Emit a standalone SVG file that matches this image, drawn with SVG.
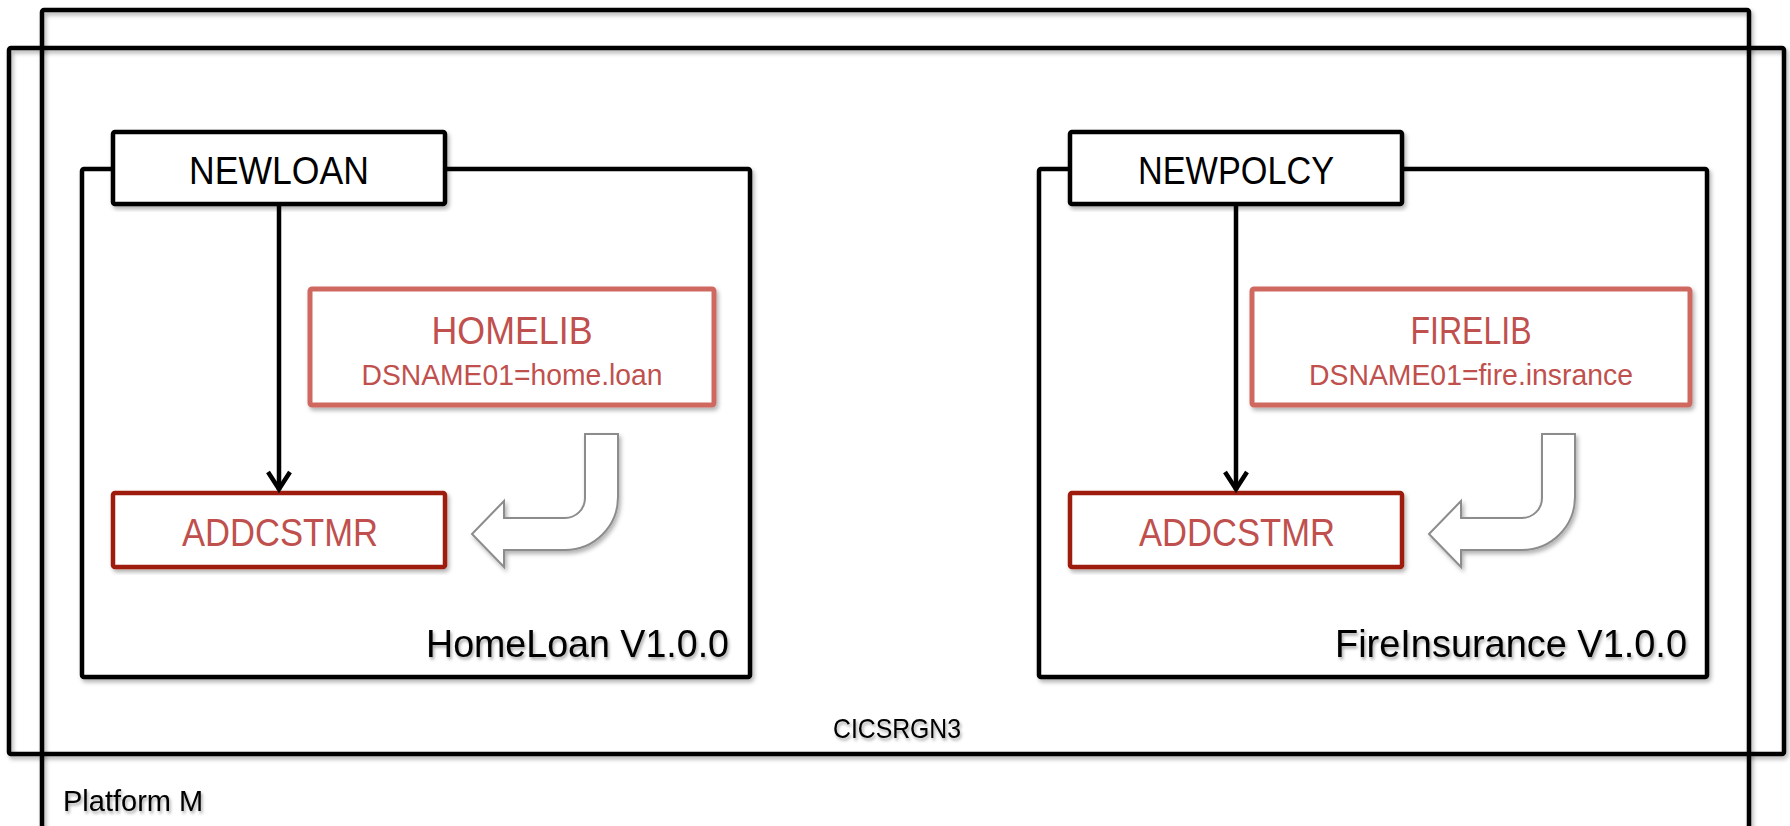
<svg xmlns="http://www.w3.org/2000/svg" width="1790" height="826" viewBox="0 0 1790 826">
  <defs>
    <filter id="sh" x="-5%" y="-5%" width="110%" height="115%">
      <feDropShadow dx="2" dy="3" stdDeviation="2" flood-color="#000" flood-opacity="0.3"/>
    </filter>
    <filter id="tsh" x="-5%" y="-20%" width="110%" height="150%">
      <feDropShadow dx="1.5" dy="2.5" stdDeviation="1.5" flood-color="#000" flood-opacity="0.35"/>
    </filter>
    <marker id="chev" viewBox="-24 -15 28 30" markerWidth="28" markerHeight="30" refX="0" refY="0" markerUnits="userSpaceOnUse" orient="auto">
      <path d="M-18,-11 L-1,0 L-18,11" fill="none" stroke="#000" stroke-width="4.5" stroke-linejoin="miter"/>
    </marker>
    <path id="uarrow" d="M585,434 L618,434 L618,497 A53,53 0 0 1 565,550 L504,550 L504,567 L472,534 L504,501 L504,518 L565,518 A20,20 0 0 0 585,498 Z"/>
  </defs>
  <style>
    .frame { fill: none; stroke: #000; stroke-width: 4.5; }
    .bundle { fill: #fff; stroke: #000; stroke-width: 4.5; }
    .op { fill: #fff; stroke: #000; stroke-width: 4.5; }
    .lib { fill: #fff; stroke: #CF6961; stroke-width: 5; }
    .prog { fill: #fff; stroke: #9E1A10; stroke-width: 4.5; }
    .uarr { fill: #fff; stroke: #8C8C8C; stroke-width: 2; }
    text { font-family: "Liberation Sans", Arial, sans-serif; }
    .blk { fill: #000; }
    .red { fill: #C0504D; }
    .conn { stroke: #000; stroke-width: 4.5; fill: none; }
  </style>
  <rect width="1790" height="826" fill="#fff"/>

  <g id="platform-m">
    <rect class="frame" x="42" y="10" width="1707" height="830" rx="2" filter="url(#sh)"/>
    <text class="blk" x="63" y="811" font-size="29" filter="url(#tsh)">Platform M</text>
  </g>

  <g id="cicsrgn3">
    <rect class="frame" x="9" y="48" width="1775" height="706" rx="2" filter="url(#sh)"/>
    <text class="blk" x="897" y="738" font-size="28" text-anchor="middle" textLength="128" lengthAdjust="spacingAndGlyphs" filter="url(#tsh)">CICSRGN3</text>
  </g>

  <g id="homeloan-bundle">
    <rect class="bundle" x="82" y="169" width="668" height="508" rx="2" filter="url(#sh)"/>
    <text class="blk" x="729" y="657" font-size="39" text-anchor="end" textLength="303" lengthAdjust="spacingAndGlyphs" filter="url(#tsh)">HomeLoan V1.0.0</text>
  </g>

  <g id="fireinsurance-bundle">
    <rect class="bundle" x="1039" y="169" width="668" height="508" rx="2" filter="url(#sh)"/>
    <text class="blk" x="1687" y="657" font-size="39" text-anchor="end" textLength="352" lengthAdjust="spacingAndGlyphs" filter="url(#tsh)">FireInsurance V1.0.0</text>
  </g>

  <g id="newloan">
    <rect class="op" x="113" y="132" width="332" height="72" rx="2" filter="url(#sh)"/>
    <text class="blk" x="279" y="184" font-size="38" text-anchor="middle" textLength="180" lengthAdjust="spacingAndGlyphs">NEWLOAN</text>
  </g>

  <g id="newpolcy">
    <rect class="op" x="1070" y="132" width="332" height="72" rx="2" filter="url(#sh)"/>
    <text class="blk" x="1236" y="184" font-size="38" text-anchor="middle" textLength="196" lengthAdjust="spacingAndGlyphs">NEWPOLCY</text>
  </g>

  <g id="homelib">
    <rect class="lib" x="310" y="289" width="404" height="116" rx="2" filter="url(#sh)"/>
    <text class="red" x="512" y="344" font-size="38" text-anchor="middle" textLength="161" lengthAdjust="spacingAndGlyphs">HOMELIB</text>
    <text class="red" x="512" y="385" font-size="29" text-anchor="middle" textLength="301" lengthAdjust="spacingAndGlyphs">DSNAME01=home.loan</text>
  </g>

  <g id="firelib">
    <rect class="lib" x="1252" y="289" width="438" height="116" rx="2" filter="url(#sh)"/>
    <text class="red" x="1471" y="344" font-size="38" text-anchor="middle" textLength="121" lengthAdjust="spacingAndGlyphs">FIRELIB</text>
    <text class="red" x="1471" y="385" font-size="29" text-anchor="middle" textLength="324" lengthAdjust="spacingAndGlyphs">DSNAME01=fire.insrance</text>
  </g>

  <g id="addcstmr-homeloan">
    <rect class="prog" x="113" y="493" width="332" height="74" rx="2" filter="url(#sh)"/>
    <text class="red" x="280" y="546" font-size="38" text-anchor="middle" textLength="196" lengthAdjust="spacingAndGlyphs">ADDCSTMR</text>
  </g>

  <g id="addcstmr-fireinsurance">
    <rect class="prog" x="1070" y="493" width="332" height="74" rx="2" filter="url(#sh)"/>
    <text class="red" x="1237" y="546" font-size="38" text-anchor="middle" textLength="196" lengthAdjust="spacingAndGlyphs">ADDCSTMR</text>
  </g>

  <g id="connectors">
    <line class="conn" x1="279" y1="206" x2="279" y2="490" marker-end="url(#chev)"/>
    <line class="conn" x1="1236" y1="206" x2="1236" y2="490" marker-end="url(#chev)"/>
    <use href="#uarrow" class="uarr" filter="url(#sh)"/>
    <use href="#uarrow" class="uarr" transform="translate(957,0)" filter="url(#sh)"/>
  </g>
</svg>
